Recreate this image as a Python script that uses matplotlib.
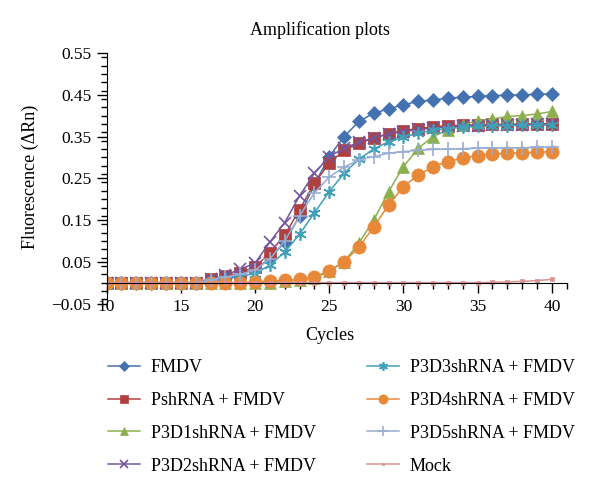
import matplotlib.pyplot as plt
import numpy as np
from matplotlib.ticker import MultipleLocator

plt.rcParams['font.family'] = ['Liberation Serif', 'DejaVu Serif']
plt.rcParams['font.size'] = 12

cycles = np.arange(10, 41)

fmdv = [0, 0, 0, 0, 0, 0, 0, 0.006, 0.012, 0.02, 0.032, 0.058, 0.097, 0.16, 0.235, 0.302,
        0.35, 0.386, 0.406, 0.416, 0.426, 0.434, 0.438, 0.442, 0.444, 0.446, 0.448, 0.449,
        0.45, 0.451, 0.452]
pshrna = [0, 0, 0, 0, 0, 0, 0, 0.009, 0.016, 0.024, 0.037, 0.072, 0.114, 0.175, 0.238, 0.286,
          0.317, 0.334, 0.346, 0.357, 0.364, 0.369, 0.373, 0.376, 0.377, 0.378, 0.379, 0.379,
          0.38, 0.38, 0.381]
p3d1 = [0, 0, 0, 0, 0, 0, 0, 0, 0, 0, 0, 0, 0.003, 0.006, 0.012, 0.027,
        0.05, 0.095, 0.15, 0.218, 0.278, 0.322, 0.35, 0.366, 0.378, 0.388, 0.392, 0.398,
        0.4, 0.404, 0.41]
p3d2 = [0, 0, 0, 0, 0, 0, 0, 0.008, 0.018, 0.032, 0.047, 0.097, 0.144, 0.208, 0.262, 0.302,
        0.322, 0.336, 0.347, 0.356, 0.362, 0.367, 0.37, 0.373, 0.375, 0.376, 0.377, 0.378,
        0.378, 0.379, 0.379]
p3d3 = [0, 0, 0, 0, 0, 0, 0, 0.005, 0.01, 0.015, 0.022, 0.042, 0.073, 0.116, 0.167, 0.218,
        0.262, 0.296, 0.32, 0.338, 0.349, 0.358, 0.365, 0.369, 0.372, 0.374, 0.375, 0.376,
        0.377, 0.377, 0.378]
p3d4 = [0, 0, 0, 0, 0, 0, 0, 0, 0, 0, 0.002, 0.004, 0.006, 0.008, 0.013, 0.029,
        0.05, 0.085, 0.134, 0.186, 0.23, 0.258, 0.278, 0.29, 0.298, 0.304, 0.308, 0.31,
        0.311, 0.312, 0.314]
p3d5 = [0, 0, 0, 0, 0, 0, 0, 0.007, 0.014, 0.02, 0.03, 0.057, 0.1, 0.16, 0.215, 0.253,
        0.277, 0.294, 0.302, 0.31, 0.314, 0.317, 0.319, 0.32, 0.321, 0.322, 0.322, 0.323,
        0.323, 0.324, 0.324]
mock = [0, 0, 0, 0, 0, 0, 0, 0, 0, 0, 0, 0, 0, 0, 0, 0,
        0, 0, 0, 0, 0, 0, 0, 0, 0, 0, 0.001, 0.002, 0.003, 0.005, 0.008]

series = [
    ('FMDV', fmdv, '#4472B0', 'D', 6.8),
    ('PshRNA + FMDV', pshrna, '#B0403E', 's', 8),
    ('P3D1shRNA + FMDV', p3d1, '#8DB04E', '^', 9),
    ('P3D2shRNA + FMDV', p3d2, '#7455A0', 'x', 8),
    ('P3D3shRNA + FMDV', p3d3, '#3FA0B8', (6, 2, 0), 9),
    ('P3D4shRNA + FMDV', p3d4, '#E8893A', 'o', 9.5),
    ('P3D5shRNA + FMDV', p3d5, '#98AED2', '+', 10),
    ('Mock', mock, '#D89392', 's', 3),
]

fig = plt.figure(figsize=(6, 4.98), dpi=100)
ax = fig.add_axes([0.1777, 0.3904, 0.7668, 0.5032])

for name, vals, col, mk, ms in series:
    ax.plot(cycles, vals, color=col, marker=mk, markersize=ms, lw=1.1,
            markeredgewidth=1.2 if mk in ('x', '+') or isinstance(mk, tuple) else 0.5,
            markeredgecolor=col, label=name)

ax.set_xlim(10, 41)
ax.set_ylim(-0.05, 0.55)
ax.spines['top'].set_visible(False)
ax.spines['right'].set_visible(False)
ax.spines['bottom'].set_position(('data', 0))
ax.spines['bottom'].set_bounds(10, 41)
ax.set_xticks([10, 15, 20, 25, 30, 35, 40])
ax.xaxis.set_minor_locator(MultipleLocator(1))
ax.set_yticks(np.arange(-0.05, 0.56, 0.1))
ax.yaxis.set_minor_locator(MultipleLocator(0.02))
ax.yaxis.set_major_formatter(plt.FuncFormatter(lambda v, p: ('%.2f' % v).replace('-', '\u2212')))
ax.tick_params(axis='x', which='major', length=7, width=1, pad=5, labelsize=12.5)
ax.tick_params(axis='x', which='minor', length=4, width=1)
ax.tick_params(axis='y', which='major', length=7, width=1, pad=4, labelsize=12.5)
ax.tick_params(axis='y', which='minor', length=4, width=1)

fig.text(320 / 600, 1 - 30 / 498, 'Amplification plots', ha='center', va='center', fontsize=13)
fig.text(330 / 600, 1 - 336 / 498, 'Cycles', ha='center', va='center', fontsize=13)
fig.text(30 / 600, 1 - 177 / 498, 'Fluorescence (\u0394Rn)', ha='center', va='center',
         rotation=90, fontsize=13)

fig.legend(loc='upper left', bbox_to_anchor=(108 / 600, 1 - 359 / 498), ncol=2, frameon=False,
           handlelength=1.77, handletextpad=0.61, columnspacing=2.8, labelspacing=0.88,
           markerscale=0.7, borderpad=0, borderaxespad=0, fontsize=13)

fig.savefig('out.png', dpi=100)
